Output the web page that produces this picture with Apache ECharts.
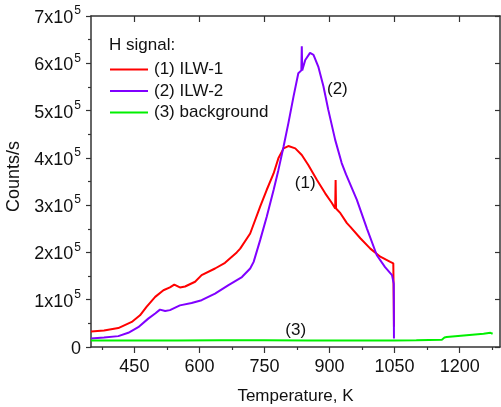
<!DOCTYPE html>
<html>
<head>
<meta charset="utf-8">
<script src="https://cdn.jsdelivr.net/npm/echarts@6/dist/echarts.min.js"></script>
<style>html,body{margin:0;padding:0;background:#fff}#c{width:501px;height:407px}</style>
</head>
<body>
<div id="c"></div>
<script>
// Temperature (K) and counts/s (x1000)
const ilw1T = [350, 380, 413, 444, 463, 478, 498, 517, 532, 542, 555, 567, 590, 605, 636, 659, 686, 694, 717, 740, 755, 771, 782, 794, 805, 821, 836, 851, 871, 890, 905, 913, 914, 915, 925, 940, 948, 971, 994, 1017, 1040, 1047, 1048, 1048.5];
const ilw1V = [33, 35, 40, 53, 67, 85, 106, 120, 126, 132, 126, 128, 138, 152, 166, 178, 200, 208, 240, 297, 332, 367, 399, 420, 425, 420, 406, 385, 353, 325, 305, 293, 353, 293, 283, 262, 254, 230, 208, 191, 180, 177, 100, 43];
const ilw2T = [350, 380, 413, 436, 459, 482, 498, 509, 521, 532, 555, 582, 605, 636, 667, 698, 717, 725, 740, 755, 771, 782, 794, 805, 817, 828, 835, 836, 837, 844, 855, 863, 874, 886, 897, 913, 928, 938, 963, 986, 1009, 1028, 1044, 1048, 1048.5];
const ilw2V = [18, 20, 23, 30, 42, 60, 71, 79, 76, 78, 88, 93, 99, 113, 131, 148, 166, 180, 226, 275, 332, 374, 424, 473, 530, 579, 585, 636, 585, 607, 622, 618, 593, 551, 502, 438, 389, 365, 311, 251, 194, 169, 152, 134, 18];
const bgT = [350, 450, 550, 650, 750, 850, 950, 1050, 1100, 1159, 1165, 1170, 1216, 1255, 1271, 1276];
const bgV = [14, 14, 14, 14.5, 14.5, 14, 14, 14, 14.5, 15.5, 20, 21, 25, 28, 30, 28];
const seriesNames = ['(1) ILW-1', '(2) ILW-2', '(3) background'];
const xTicks = [450, 600, 750, 900, 1050, 1200];
const xMinorTicks = [375, 525, 675, 825, 975, 1125, 1275];
const curveLabels = ['(1)', '(2)', '(3)'];

const pair = (t, v) => t.map((x, i) => [x, v[i] * 1000]);
const font = 'Arial, "Liberation Sans", sans-serif';
const chart = echarts.init(document.getElementById('c'));
const axisLine = {show: true, onZero: false, lineStyle: {color: '#333', width: 1.5}};
const tickStyle = {color: '#333', width: 1.2};
const xBase = {type: 'value', min: 350, max: 1293, axisLine: axisLine, splitLine: {show: false}};
const yBase = {type: 'value', min: 0, max: 700000, interval: 100000, axisLine: axisLine, splitLine: {show: false}};
const lbl = (t) => ({show: true, formatter: t, fontFamily: font, fontSize: 17, color: '#111'});
chart.setOption({
  animation: false,
  grid: {left: 91, right: 1, top: 16, bottom: 60, containLabel: false, outerBoundsMode: 'none'},
  xAxis: [
    Object.assign({}, xBase, {
      position: 'bottom',
      name: 'Temperature, K', nameLocation: 'middle', nameGap: 41,
      nameTextStyle: {fontFamily: font, fontSize: 17, color: '#111'},
      axisTick: {show: true, inside: false, length: 6, lineStyle: tickStyle, customValues: xTicks},
      axisLabel: {fontFamily: font, fontSize: 18, color: '#111', margin: 11, customValues: xTicks, formatter: v => String(v)}
    }),
    Object.assign({}, xBase, {
      position: 'top',
      axisTick: {show: true, inside: true, length: 6, lineStyle: tickStyle, customValues: xTicks},
      axisLabel: {show: false}
    }),
    Object.assign({}, xBase, {
      position: 'bottom',
      axisLine: {show: false},
      axisTick: {show: true, inside: false, length: 3, lineStyle: tickStyle, customValues: xMinorTicks},
      axisLabel: {show: false}
    })
  ],
  yAxis: [
    Object.assign({}, yBase, {
      position: 'left',
      name: 'Counts/s', nameLocation: 'middle', nameGap: 62, nameRotate: 90,
      nameTextStyle: {fontFamily: font, fontSize: 18, color: '#111', padding: [0, 0, 0, 10]},
      axisTick: {show: true, inside: false, length: 5, lineStyle: tickStyle},
      minorTick: {show: true, splitNumber: 2, length: 3, lineStyle: tickStyle},
      axisLabel: {
        fontFamily: font, fontSize: 18, color: '#111', margin: 10,
        formatter: v => v === 0 ? '{b|0}' : '{b|' + (v / 100000) + 'x10}{s|5}',
        rich: {
          b: {fontFamily: font, fontSize: 18, color: '#111', lineHeight: 22, verticalAlign: 'bottom'},
          s: {fontFamily: font, fontSize: 12, color: '#111', lineHeight: 12, verticalAlign: 'top', padding: [0, 0, 0, 1]}
        }
      }
    }),
    Object.assign({}, yBase, {
      position: 'right',
      axisTick: {show: true, inside: true, length: 5, lineStyle: tickStyle},
      axisLabel: {show: false}
    })
  ],
  legend: {
    left: 105, top: 56, orient: 'vertical', itemWidth: 38, itemHeight: 2, itemGap: 4.5,
    icon: 'rect',
    textStyle: {fontFamily: font, fontSize: 17, color: '#111', padding: [0, 0, 0, 1]},
    data: seriesNames
  },
  graphic: [
    {type: 'text', left: 109, top: 37, style: {text: 'H signal:', font: '17px ' + font, fill: '#111'}}
  ],
  series: [
    {name: seriesNames[0], type: 'line', data: pair(ilw1T, ilw1V), showSymbol: false, symbol: 'none',
     lineStyle: {color: '#ff0000', width: 2}, itemStyle: {color: '#ff0000'},
     markPoint: {symbol: 'rect', symbolSize: 0, label: lbl(curveLabels[0]), data: [{coord: [844, 347000]}]}},
    {name: seriesNames[1], type: 'line', data: pair(ilw2T, ilw2V), showSymbol: false, symbol: 'none',
     lineStyle: {color: '#8000ff', width: 2}, itemStyle: {color: '#8000ff'},
     markPoint: {symbol: 'rect', symbolSize: 0, label: lbl(curveLabels[1]), data: [{coord: [918, 546000]}]}},
    {name: seriesNames[2], type: 'line', data: pair(bgT, bgV), showSymbol: false, symbol: 'none',
     lineStyle: {color: '#00f000', width: 2}, itemStyle: {color: '#00f000'},
     markPoint: {symbol: 'rect', symbolSize: 0, label: lbl(curveLabels[2]), data: [{coord: [822, 36000]}]}}
  ]
});
</script>
</body>
</html>
